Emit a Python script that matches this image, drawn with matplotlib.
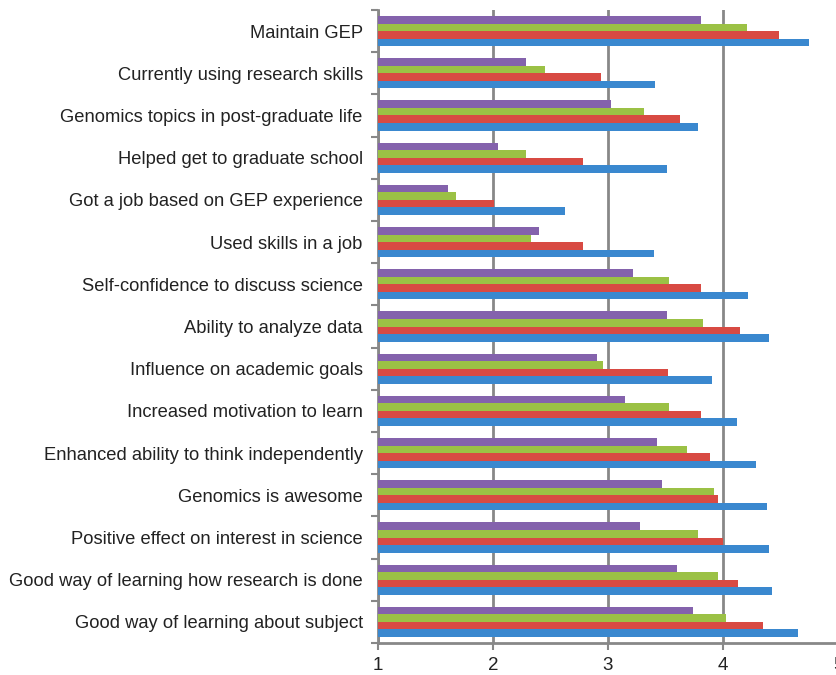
import matplotlib.pyplot as plt
import numpy as np
from matplotlib.ticker import FixedLocator

plt.rcParams['font.family'] = ['Liberation Sans', 'DejaVu Sans']

categories = [
    'Maintain GEP',
    'Currently using research skills',
    'Genomics topics in post-graduate life',
    'Helped get to graduate school',
    'Got a job based on GEP experience',
    'Used skills in a job',
    'Self-confidence to discuss science',
    'Ability to analyze data',
    'Influence on academic goals',
    'Increased motivation to learn',
    'Enhanced ability to think independently',
    'Genomics is awesome',
    'Positive effect on interest in science',
    'Good way of learning how research is done',
    'Good way of learning about subject',
]

# four series, drawn top to bottom in each group
purple = [3.81, 2.29, 3.03, 2.04, 1.61, 2.40, 3.22, 3.51, 2.90, 3.15, 3.43, 3.47, 3.28, 3.60, 3.74]
green = [4.21, 2.45, 3.31, 2.29, 1.68, 2.33, 3.53, 3.83, 2.96, 3.53, 3.69, 3.92, 3.78, 3.96, 4.03]
red = [4.49, 2.94, 3.63, 2.78, 2.01, 2.78, 3.81, 4.15, 3.52, 3.81, 3.89, 3.96, 4.00, 4.13, 4.35]
blue = [4.75, 3.41, 3.78, 3.51, 2.63, 3.40, 4.22, 4.40, 3.90, 4.12, 4.29, 4.38, 4.40, 4.43, 4.65]

series = [purple, green, red, blue]
colors = ['#8462AC', '#9BC145', '#D84A43', '#3A88CF']

fig = plt.figure(figsize=(8.36, 6.75), dpi=100)
ax = fig.add_axes([378 / 836, 32 / 675, 460 / 836, 633 / 675])

y = np.arange(len(categories))
h = 0.18
for i, (vals, c) in enumerate(zip(series, colors)):
    ax.barh(y + (i - 1.5) * h, np.array(vals) - 1, left=1, height=h,
            color=c, linewidth=0, zorder=3)

ax.set_xlim(1, 5)
ax.set_ylim(len(categories) - 0.5, -0.5)
ax.set_xticks([1, 2, 3, 4, 5])
ax.set_xticklabels(['1', '2', '3', '4', '5'], fontsize=13.5, color='#222222')
ax.set_yticks(y)
ax.set_yticklabels(categories, fontsize=13.2, color='#222222')
ax.yaxis.set_minor_locator(FixedLocator(np.arange(-0.5, len(categories), 1)))
ax.tick_params(axis='y', which='major', length=0, pad=11)
ax.tick_params(axis='y', which='minor', length=5, width=1.5, color='#888888')
ax.tick_params(axis='x', length=5, width=1.5, color='#888888', pad=5)

ax.grid(axis='x', color='#888888', linewidth=2, zorder=0)
for s in ['top', 'right']:
    ax.spines[s].set_visible(False)
for s in ['left', 'bottom']:
    ax.spines[s].set_color('#888888')
    ax.spines[s].set_linewidth(2)

fig.savefig('out.png')
